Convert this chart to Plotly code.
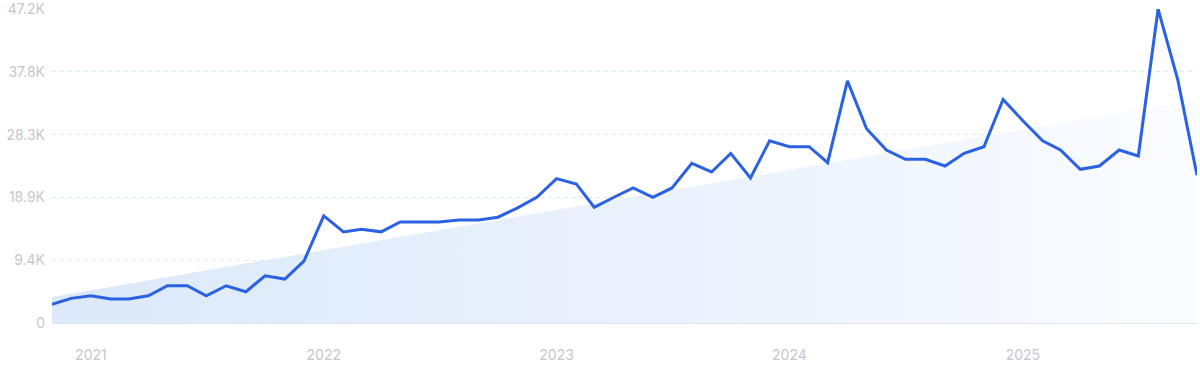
import pandas as pd
import plotly.graph_objects as go

# ---- data ----
months = pd.date_range("2020-11-01", periods=60, freq="MS")
volume = [2800, 3700, 4100, 3600, 3600, 4100, 5600, 5600, 4100, 5600,
          4700, 7100, 6600, 9300, 16100, 13700, 14100, 13700, 15200, 15200,
          15200, 15500, 15500, 15900, 17300, 18900, 21700, 20900, 17400, 18900,
          20300, 18900, 20300, 24000, 22700, 25500, 21800, 27400, 26500, 26500,
          24100, 36400, 29200, 26000, 24600, 24600, 23600, 25500, 26500, 33600,
          30400, 27400, 26000, 23100, 23600, 26000, 25100, 47200, 36500, 22200]
trend_dates = [months[0], months[-1]]
trend_values = [3900, 33600]
y_ticks = [0, 9440, 18880, 28320, 37760, 47200]
y_labels = ["0", "9.4K", "18.9K", "28.3K", "37.8K", "47.2K"]
x_ticks = ["2021-01-01", "2022-01-01", "2023-01-01", "2024-01-01", "2025-01-01"]
x_labels = ["2021", "2022", "2023", "2024", "2025"]

fig = go.Figure()
fig.add_trace(go.Scatter(
    x=trend_dates, y=trend_values, mode="lines", line=dict(width=0),
    fill="tozeroy",
    fillgradient=dict(type="horizontal",
                      colorscale=[[0, "rgb(220,233,250)"], [0.6, "rgb(236,243,253)"], [1, "rgb(251,252,255)"]]),
    hoverinfo="skip", showlegend=False,
))
fig.add_trace(go.Scatter(
    x=months, y=volume, mode="lines",
    line=dict(color="#2b62e3", width=3), cliponaxis=False, showlegend=False,
))

fig.update_layout(
    width=1200, height=372,
    margin=dict(l=52, r=3, t=9, b=49, autoexpand=False),
    paper_bgcolor="white", plot_bgcolor="white",
    font=dict(family="Inter, Lato, sans-serif", size=14, color="#c6c6cf"),
)
fig.update_xaxes(
    range=[months[0], months[-1]], tickvals=x_ticks, ticktext=x_labels,
    showgrid=False, zeroline=False, showline=False, ticks="",
    ticklabelstandoff=22, automargin=False, ticklabeloverflow="allow",
)
fig.update_yaxes(
    range=[-1, 47202], tickvals=y_ticks, ticktext=y_labels,
    showgrid=True, gridcolor="#d8eaf7", griddash="4px,4px", gridwidth=1,
    zeroline=True, zerolinecolor="#dfe4ee", zerolinewidth=1.5,
    showline=False, ticks="", ticklabelstandoff=6, automargin=False,
    ticklabeloverflow="allow",
)
fig.write_html(
    "out.html",
    config={"displayModeBar": False},
    post_script="document.body.style.margin='0';document.body.style.overflow='hidden';",
)
